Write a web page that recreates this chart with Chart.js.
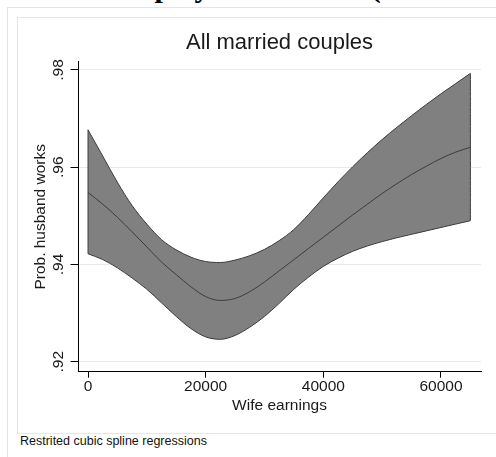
<!DOCTYPE html>
<html>
<head>
<meta charset="utf-8">
<title>All married couples</title>
<script src="https://cdn.jsdelivr.net/npm/chart.js@4"></script>
<style>
  html, body { margin: 0; padding: 0; background: #fff; overflow: hidden; }
  #page { position: relative; width: 496px; height: 457px; overflow: hidden; font-family: "Liberation Sans", Arial, sans-serif; }
  #cut-title { position: absolute; left: -8px; top: -28px; font: bold 30px/30px "Liberation Serif", serif; white-space: nowrap; color: #000; }
  #outer-frame { position: absolute; left: 7px; top: 7px; width: 600px; height: 600px; border-left: 1px solid #e3e3e3; border-top: 1px solid #e3e3e3; }
  #inner-frame { position: absolute; left: 17px; top: 17px; width: 600px; height: 415px; border: 1px solid #e6e6e6; }
  #note { position: absolute; left: 20px; top: 433px; font-size: 12.5px; line-height: 16px; color: #111; }
  #wrap { position: absolute; left: 0; top: 0; width: 496px; height: 457px; }
</style>
</head>
<body>
<div id="page">
  <div id="cut-title">Husband employment trends (1980 to 2010)</div>
  <div id="outer-frame"></div>
  <div id="inner-frame"></div>
  <div id="note">Restrited cubic spline regressions</div>
  <div id="wrap"><canvas id="chart"></canvas></div>
</div>
<script>
/* Wife earnings grid (dollars) */
const earnings = [0, 2500, 5000, 7500, 10000, 12500, 15000, 17500, 20000, 22500, 25000,
  27500, 30000, 32500, 35000, 37500, 40000, 42500, 45000, 47500, 50000, 52500, 55000,
  57500, 60000, 62500, 65000];

/* Predicted probability that the husband works, with confidence band */
const fitted = [.9548, .9524, .9497, .9467, .9436, .9405, .9379, .9354, .9334, .9326, .9330,
  .9344, .9364, .9387, .9410, .9433, .9456, .9479, .9502, .9524, .9546, .9566, .9585,
  .9602, .9618, .9631, .9641];
const upperCI = [.9677, .9623, .9569, .9521, .9483, .9451, .9430, .9415, .9406, .9404, .9409,
  .9418, .9431, .9449, .9472, .9503, .9537, .9570, .9601, .9630, .9657, .9682, .9706,
  .9729, .9751, .9772, .9793];
const lowerCI = [.9422, .9410, .9393, .9372, .9349, .9321, .9293, .9268, .9251, .9246, .9254,
  .9271, .9293, .9320, .9349, .9374, .9396, .9413, .9427, .9438, .9447, .9455, .9462,
  .9469, .9476, .9483, .9490];

/* Tick labels */
const xTicks = [0, 20000, 40000, 60000];
const yTicks = [.92, .94, .96, .98];

const FONT = '"Liberation Sans", Arial, sans-serif';
const INK = '#1a1a1a';
const BAND = '#808080';
const EDGE = '#3c3c3c';

function toPoints(ys) {
  return earnings.map((x, i) => ({ x: x, y: ys[i] }));
}

// closing edges of the band at both ends of the earnings range
function bandEnd(i) {
  return [{ x: earnings[i], y: upperCI[i] }, { x: earnings[i], y: lowerCI[i] }];
}

const lineStyle = { borderColor: EDGE, borderWidth: 1, pointRadius: 0, cubicInterpolationMode: 'monotone' };

new Chart(document.getElementById('chart'), {
  type: 'line',
  data: {
    datasets: [
      Object.assign({ label: 'upper', data: toPoints(upperCI), fill: '+1', backgroundColor: BAND }, lineStyle),
      Object.assign({ label: 'lower', data: toPoints(lowerCI), fill: false }, lineStyle),
      Object.assign({ label: 'fit', data: toPoints(fitted), fill: false }, lineStyle),
      Object.assign({ label: 'left end', data: bandEnd(0), fill: false }, lineStyle),
      Object.assign({ label: 'right end', data: bandEnd(earnings.length - 1), fill: false }, lineStyle)
    ]
  },
  options: {
    responsive: true,
    maintainAspectRatio: false,
    animation: false,
    layout: { padding: { left: 0, right: 15, top: 0, bottom: 42.3 } },
    plugins: {
      legend: { display: false },
      tooltip: { enabled: false },
      filler: { drawTime: 'beforeDatasetsDraw' },
      title: {
        display: true,
        fullSize: false,
        text: 'All married couples',
        color: INK,
        font: { family: FONT, size: 22, weight: 'normal' },
        padding: { top: 30, bottom: 5.5 }
      }
    },
    scales: {
      x: {
        type: 'linear',
        min: -1700,
        max: 66800,
        afterFit: s => { s.height = 43; },
        afterBuildTicks: s => { s.ticks = xTicks.map(v => ({ value: v })); },
        grid: { color: 'rgba(0,0,0,0)', tickColor: '#000', tickLength: 6, drawTicks: true },
        border: { color: '#000', width: 1 },
        ticks: { color: INK, padding: 0, maxRotation: 0, font: { family: FONT, size: 15.5 }, callback: v => String(v) },
        title: { display: true, text: 'Wife earnings', color: INK, font: { family: FONT, size: 15.5 }, padding: { top: 0, bottom: 0 } }
      },
      y: {
        type: 'linear',
        min: .91794,
        max: .98166,
        afterFit: s => { s.width = 78; },
        afterBuildTicks: s => { s.ticks = yTicks.map(v => ({ value: v })); },
        grid: { color: '#e9e9e9', tickColor: '#000', tickLength: 7.5, drawTicks: true },
        border: { color: '#000', width: 1 },
        ticks: {
          color: INK, padding: 1, minRotation: 90, maxRotation: 90, crossAlign: 'center',
          font: { family: FONT, size: 15.5 },
          callback: v => String(v).replace(/^0\./, '.')
        },
        title: { display: true, text: 'Prob. husband works', color: INK, font: { family: FONT, size: 15.5 }, padding: { top: 31.7, bottom: 0 } }
      }
    }
  }
});
</script>
</body>
</html>
